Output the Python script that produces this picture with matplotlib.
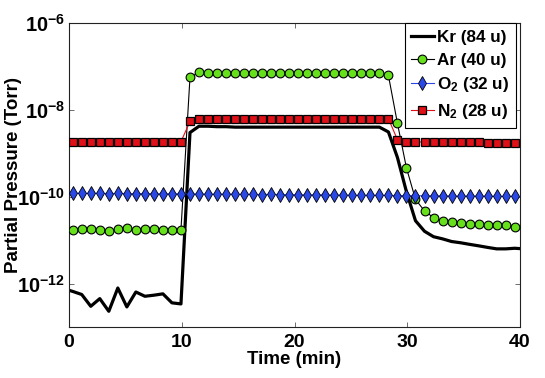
import numpy as np
import matplotlib
matplotlib.use('Agg')
import matplotlib.pyplot as plt
from matplotlib.ticker import FixedLocator, FuncFormatter, NullLocator

plt.rcParams['font.family'] = ['Liberation Sans', 'DejaVu Sans']
plt.rcParams['font.weight'] = 'bold'
plt.rcParams['mathtext.fontset'] = 'custom'
plt.rcParams['mathtext.rm'] = 'Liberation Sans:bold'
plt.rcParams['mathtext.bf'] = 'Liberation Sans:bold'
plt.rcParams['mathtext.it'] = 'Liberation Sans:bold'
plt.rcParams['mathtext.default'] = 'bf'

# ---------------- data ----------------
# sample times (min)
time = 0.33 + 0.8 * np.arange(50)
kr_time = 0.33 + 0.8 * np.arange(-1, 51)

kr = [7.6e-13, 6.6e-13, 5.6e-13, 3.0e-13, 4.5e-13, 2.3e-13, 7.9e-13, 2.9e-13,
      6.4e-13, 5.1e-13, 5.4e-13, 5.8e-13, 3.6e-13, 3.4e-13,
      3.0e-9, 4.2e-9, 4.2e-9, 4.1e-9, 4.1e-9, 4.0e-9, 4.0e-9, 4.0e-9, 4.0e-9,
      4.0e-9, 4.0e-9, 4.0e-9, 4.0e-9, 4.0e-9, 4.0e-9, 4.0e-9, 4.0e-9, 4.0e-9,
      4.0e-9, 4.0e-9, 4.0e-9, 4.0e-9, 3.1e-9,
      8.0e-10, 1.3e-10, 2.8e-11, 1.6e-11, 1.2e-11, 1.07e-11, 9.3e-12, 8.7e-12,
      8.0e-12, 7.4e-12, 6.8e-12, 6.3e-12, 6.3e-12, 6.5e-12, 6.3e-12]

ar = [1.74e-11, 1.81e-11, 1.81e-11, 1.74e-11, 1.59e-11, 1.84e-11, 1.87e-11,
      1.71e-11, 1.77e-11, 1.84e-11, 1.74e-11, 1.74e-11, 1.74e-11,
      5.6e-8, 7.3e-8, 7.2e-8, 7.2e-8, 7.2e-8, 7.1e-8, 7.2e-8, 7.2e-8, 7.1e-8,
      7.2e-8, 7.2e-8, 7.1e-8, 7.2e-8, 7.2e-8, 7.1e-8, 7.2e-8, 7.2e-8, 7.1e-8,
      7.2e-8, 7.1e-8, 7.1e-8, 7.0e-8, 6.2e-8,
      4.9e-9, 4.6e-10, 8.7e-11, 4.7e-11, 3.3e-11, 2.8e-11, 2.6e-11, 2.5e-11,
      2.4e-11, 2.3e-11, 2.2e-11, 2.2e-11, 2.2e-11, 2.05e-11]

o2 = [1.20e-10, 1.20e-10, 1.19e-10, 1.20e-10, 1.18e-10, 1.19e-10, 1.18e-10,
      1.17e-10, 1.18e-10, 1.17e-10, 1.16e-10, 1.17e-10, 1.16e-10,
      1.16e-10, 1.15e-10, 1.15e-10, 1.14e-10, 1.15e-10, 1.14e-10, 1.13e-10,
      1.13e-10, 1.12e-10, 1.13e-10, 1.12e-10, 1.11e-10, 1.11e-10, 1.10e-10,
      1.11e-10, 1.10e-10, 1.09e-10, 1.09e-10, 1.08e-10, 1.08e-10, 1.07e-10,
      1.08e-10, 1.07e-10,
      1.06e-10, 1.06e-10, 1.05e-10, 1.05e-10, 1.05e-10, 1.04e-10, 1.04e-10,
      1.03e-10, 1.04e-10, 1.03e-10, 1.03e-10, 1.02e-10, 1.02e-10, 1.02e-10]

n2 = [1.85e-9, 1.85e-9, 1.85e-9, 1.85e-9, 1.85e-9, 1.85e-9, 1.85e-9, 1.85e-9,
      1.85e-9, 1.85e-9, 1.85e-9, 1.85e-9, 1.85e-9,
      5.4e-9, 6.3e-9, 6.3e-9, 6.3e-9, 6.3e-9, 6.3e-9, 6.3e-9, 6.3e-9, 6.3e-9,
      6.3e-9, 6.3e-9, 6.3e-9, 6.3e-9, 6.3e-9, 6.3e-9, 6.3e-9, 6.3e-9, 6.3e-9,
      6.3e-9, 6.3e-9, 6.3e-9, 6.3e-9, 6.3e-9,
      2.05e-9, 1.82e-9, 1.82e-9, 1.82e-9, 1.80e-9, 1.80e-9, 1.80e-9, 1.79e-9,
      1.78e-9, 1.78e-9, 1.77e-9, 1.76e-9, 1.76e-9, 1.75e-9]

labels = ['Kr (84 u)', 'Ar (40 u)', r'O$_2$ (32 u)', r'N$_2$ (28 u)']
xticks = [0, 10, 20, 30, 40]
yticks = [1e-12, 1e-10, 1e-8, 1e-6]

green = '#66e01a'
blue = '#2a48e8'
red = '#e01018'

# ---------------- figure ----------------
fig = plt.figure(figsize=(5.45, 3.78), dpi=100)
ax = fig.add_axes([69 / 545, 1 - 327 / 378, (520 - 69) / 545, (327 - 23) / 378])

ax.plot(kr_time, kr, color='k', lw=2.3, label=labels[0], zorder=2)
ax.plot(time, ar, '-o', color='k', lw=0.8, mfc=green, mec='k', mew=0.8,
        ms=6.3, label=labels[1], zorder=3)
ax.plot(time, o2, '-d', color=blue, lw=0.8, mfc=blue, mec='k', mew=0.6,
        ms=7.5, label=labels[2], zorder=3)
ax.plot(time, n2, '-s', color=red, lw=0.8, mfc=red, mec='k', mew=0.9,
        ms=5.2, label=labels[3], zorder=3)

ax.set_yscale('log')
ax.set_xlim(0, 40)
ax.set_ylim(1e-13, 1e-6)
ax.xaxis.set_major_locator(FixedLocator(xticks))
ax.yaxis.set_major_locator(FixedLocator(yticks))
ax.yaxis.set_minor_locator(NullLocator())
ax.yaxis.set_major_formatter(FuncFormatter(
    lambda v, p: r'$\mathdefault{10^{%d}}$' % int(round(np.log10(v)))))

ax.tick_params(axis='both', which='both', direction='in', top=True, right=True,
               length=3.5, width=0.6, color='#555555')
ax.tick_params(axis='x', labelsize=14, pad=5)
ax.tick_params(axis='y', labelsize=14.5, pad=3)
for s in ax.spines.values():
    s.set_linewidth(0.8)
    s.set_color('#222222')

ax.set_xlabel('Time (min)', fontsize=13.5, fontweight='bold', labelpad=0)
ax.set_ylabel('Partial Pressure (Torr)', fontsize=13.5, fontweight='bold')
ax.yaxis.set_label_coords(-0.105, 0.5)

leg = ax.legend(loc='upper right', bbox_to_anchor=(1 - 4 / 451, 1),
                borderaxespad=0, fancybox=False, framealpha=1, edgecolor='k',
                prop={'size': 12.3, 'weight': 'bold'}, handlelength=1.3,
                handletextpad=0.2, borderpad=0.4, labelspacing=0.45)
leg.get_frame().set_linewidth(0.8)

fig.savefig('out.png', dpi=100)
